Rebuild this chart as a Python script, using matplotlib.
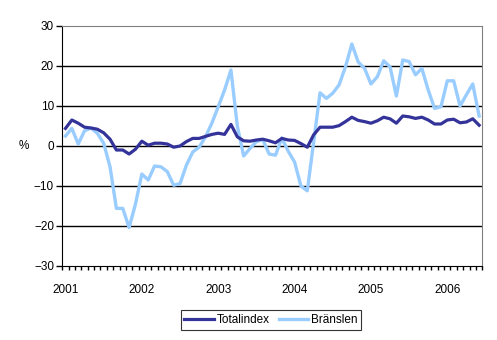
import numpy as np
import matplotlib.pyplot as plt

plt.rcParams['font.family'] = ['Liberation Sans', 'DejaVu Sans']

# Årsförändring, procent (jan 2001 - jun 2006)
years = ['2001', '2002', '2003', '2004', '2005', '2006']
totalindex = [4.4, 6.5, 5.7, 4.7, 4.5, 4.2, 3.3, 1.7, -1.0, -1.0, -2.0, -0.8,
              1.2, 0.2, 0.7, 0.7, 0.5, -0.3, 0.0, 1.1, 1.9, 1.9, 2.4, 2.9,
              3.2, 2.9, 5.4, 2.3, 1.3, 1.2, 1.5, 1.7, 1.3, 0.8, 1.9, 1.5,
              1.4, 0.6, -0.3, 2.8, 4.7, 4.7, 4.7, 5.1, 6.1, 7.2, 6.4, 6.1,
              5.7, 6.3, 7.2, 6.8, 5.7, 7.5, 7.3, 6.9, 7.2, 6.5, 5.5, 5.5,
              6.5, 6.7, 5.8, 6.0, 6.8, 5.2]
branslen = [2.5, 4.4, 0.5, 3.8, 4.5, 3.2, 0.7, -5.2, -15.6, -15.6, -20.4, -14.5,
            -7.0, -8.5, -5.0, -5.2, -6.4, -9.8, -9.4, -4.8, -1.5, -0.3, 2.3, 5.7,
            9.8, 14.0, 19.0, 5.0, -2.5, -0.6, 1.1, 1.6, -2.0, -2.3, 2.0, -1.3,
            -4.0, -10.0, -11.2, 1.0, 13.3, 11.9, 13.2, 15.3, 19.8, 25.5, 21.0, 19.4,
            15.5, 17.3, 21.3, 19.8, 12.5, 21.5, 21.1, 17.8, 19.4, 14.0, 9.4, 9.8,
            16.3, 16.3, 10.0, 12.8, 15.5, 7.5]

n = len(totalindex)
x = np.arange(n)
fs = 8.5

fig = plt.figure(figsize=(4.97, 3.40), dpi=100)
ax = fig.add_axes([62.3 / 497, 1 - 266 / 340, 420 / 497, 240 / 340])

for y in [-20, -10, 0, 10, 20]:
    ax.axhline(y, color='black', lw=1.0, zorder=1)

ax.plot(x, totalindex, color='#333399', lw=2.3, label='Totalindex', zorder=3)
ax.plot(x, branslen, color='#99CCFF', lw=2.4, label='Bränslen', zorder=2)

ax.set_xlim(-0.5, n - 0.5)
ax.set_ylim(-30, 30)
ax.set_yticks(range(-30, 31, 10))
ax.tick_params(axis='y', length=4, width=1, labelsize=fs, pad=2)

ax.set_xticks(x[::12])
ax.set_xticklabels(years)
ax.set_xticks(np.arange(n + 1) - 0.5, minor=True)
ax.tick_params(axis='x', which='major', length=0, labelsize=fs, pad=13)
ax.tick_params(axis='x', which='minor', length=3, width=1)

for s in ['top', 'right']:
    ax.spines[s].set_color('#808080')
for s in ['left', 'bottom']:
    ax.spines[s].set_color('black')

fig.text(24 / 497, 1 - 146 / 340, '%', fontsize=fs, ha='center', va='center')

leg = fig.legend(loc='center', bbox_to_anchor=(271 / 497, 1 - 320 / 340), ncol=2,
                 fontsize=fs, frameon=True, fancybox=False, edgecolor='black',
                 handlelength=2.5, handletextpad=0.25, columnspacing=0.8,
                 borderpad=0.3)
leg.get_frame().set_linewidth(0.8)

fig.savefig('out.png', dpi=100)
